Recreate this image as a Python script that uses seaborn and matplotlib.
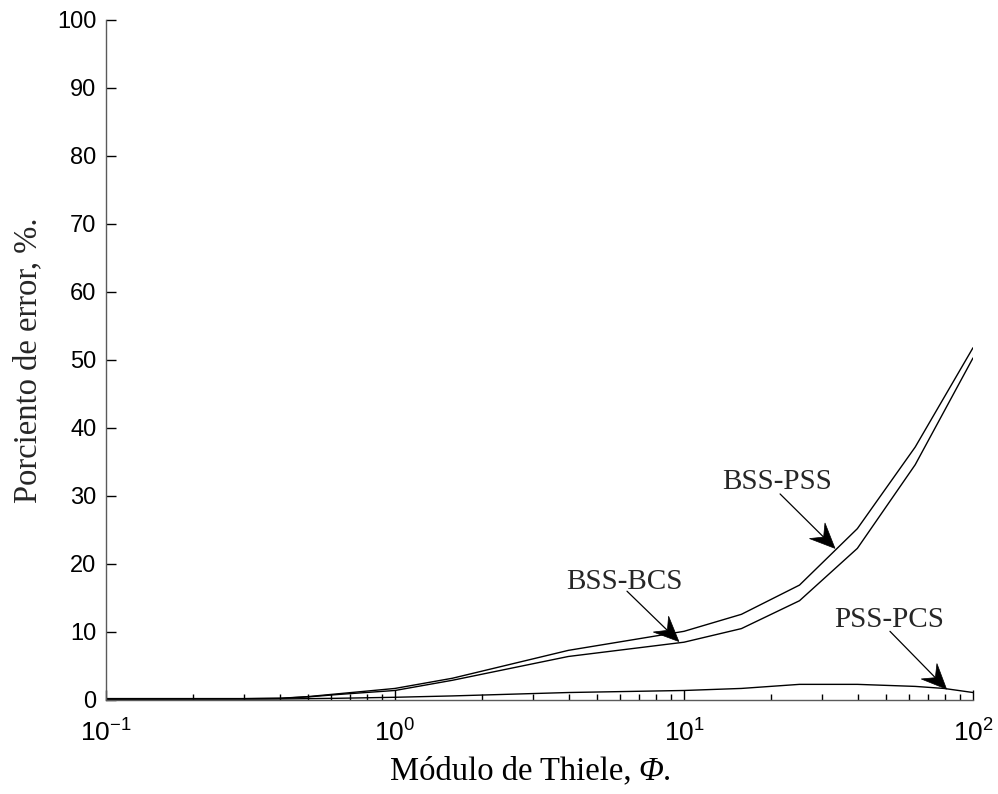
import numpy as np
import pandas as pd
import matplotlib
matplotlib.use("Agg")
import matplotlib.pyplot as plt
import seaborn as sns
from matplotlib.patches import Polygon
from matplotlib.transforms import IdentityTransform
from matplotlib.offsetbox import TextArea, HPacker, AnchoredOffsetbox
from matplotlib.ticker import LogLocator, FixedLocator, NullFormatter

# Thiele modulus values and percent error between model pairs
phi = [0.1, 0.2, 0.3, 0.4, 0.5, 0.63, 1.0, 1.58, 3.98, 10.0, 15.8, 25.1, 39.8, 63.1, 100.0]
err_bss_pss = [0.2, 0.2, 0.2, 0.25, 0.5, 0.9, 1.7, 3.2, 7.3, 10.1, 12.6, 16.9, 25.2, 37.2, 51.8]
err_bss_bcs = [0.2, 0.2, 0.2, 0.25, 0.45, 0.8, 1.4, 2.9, 6.4, 8.5, 10.5, 14.6, 22.3, 34.6, 50.3]

phi_pss = [0.1, 0.4, 0.63, 1.0, 1.58, 3.98, 10.0, 15.8, 25.1, 39.8, 63.1, 79.4, 100.0]
err_pss_pcs = [0.1, 0.15, 0.25, 0.4, 0.6, 1.1, 1.4, 1.7, 2.3, 2.3, 2.0, 1.7, 1.1]

y_ticks = [0, 10, 20, 30, 40, 50, 60, 70, 80, 90, 100]
x_ticks = [0.1, 1, 10, 100]
x_tick_labels = [r"$10^{-1}$", r"$10^{0}$", r"$10^{1}$", r"$10^{2}$"]

# annotation: label, text position, arrow tail, arrow tip (data coords)
notes = [
    ("BSS-PSS", (21.0, 32.1), (21.5, 30.3), (33.3, 22.3)),
    ("BSS-BCS", (6.2, 17.3), (6.35, 16.0), (9.6, 8.6)),
    ("PSS-PCS", (51.2, 11.8), (51.6, 10.1), (81.0, 1.6)),
]

sns.set_theme(style="ticks")
plt.rcParams["font.family"] = ["Liberation Sans", "DejaVu Sans"]
plt.rcParams["mathtext.fontset"] = "custom"
plt.rcParams["mathtext.rm"] = "Liberation Sans"
plt.rcParams["mathtext.sf"] = "Liberation Sans"

fig = plt.figure(figsize=(9.98, 7.94), dpi=100)
ax = fig.add_axes([106 / 998, 94 / 794, 867 / 998, 680 / 794])

df1 = pd.DataFrame({"phi": phi, "err": err_bss_pss})
df2 = pd.DataFrame({"phi": phi, "err": err_bss_bcs})
df3 = pd.DataFrame({"phi": phi_pss, "err": err_pss_pcs})
for d in (df1, df2, df3):
    sns.lineplot(data=d, x="phi", y="err", color="black", linewidth=1.0,
                 estimator=None, sort=False, ax=ax)

ax.set_xscale("log")
ax.set_xlim(0.1, 100)
ax.set_ylim(0, 100)
ax.yaxis.set_major_locator(FixedLocator(y_ticks))
ax.xaxis.set_major_locator(FixedLocator(x_ticks))
ax.set_xticklabels(x_tick_labels)
ax.xaxis.set_minor_locator(LogLocator(base=10, subs=np.arange(2, 10), numticks=20))
ax.xaxis.set_minor_formatter(NullFormatter())

for side in ("top", "right"):
    ax.spines[side].set_visible(False)
for side in ("left", "bottom"):
    ax.spines[side].set_color("#5a5a5a")
    ax.spines[side].set_linewidth(1.0)

ax.tick_params(axis="both", which="major", direction="in", length=7, width=1.0,
               color="black", labelcolor="black")
ax.tick_params(axis="y", which="major", pad=7, labelsize=17)
ax.tick_params(axis="x", which="major", pad=13, labelsize=19)
ax.tick_params(axis="x", which="minor", direction="in", length=4, width=1.0, color="black")

serif = ["Liberation Serif", "DejaVu Serif"]
ax.set_xlabel("")
ax.set_ylabel("Porciento de error, %.", fontsize=23.5, family=serif, labelpad=10)

# x-axis title with an italic Phi
upright = dict(fontsize=23.5, family=serif, color="black")
italic = dict(fontsize=23.5, family=serif, style="italic", color="black")
xlabel_box = HPacker(children=[TextArea("Módulo de Thiele,\u2009", textprops=upright),
                               TextArea("\u03A6", textprops=italic),
                               TextArea(".", textprops=upright)],
                     align="baseline", pad=0, sep=0)
ax.add_artist(AnchoredOffsetbox(loc="center", child=xlabel_box, pad=0, borderpad=0,
                                frameon=False, bbox_to_anchor=(0.49, -0.105),
                                bbox_transform=ax.transAxes))

# annotation arrows: thin shaft plus a notched, filled head
HEAD_LEN, HEAD_HALF, NOTCH = 25.0, 11.0, 16.0
for label, txt_pos, tail, tip in notes:
    ax.text(txt_pos[0], txt_pos[1], label, fontsize=21, family=serif,
            ha="center", va="center")
    p0 = ax.transData.transform(tail)
    p1 = ax.transData.transform(tip)
    d = (p1 - p0) / np.hypot(*(p1 - p0))
    n = np.array([-d[1], d[0]])
    base = p1 - d * HEAD_LEN
    notch = p1 - d * NOTCH
    ax.annotate("", xy=tuple(ax.transData.inverted().transform(notch)), xytext=tail,
                arrowprops=dict(arrowstyle="-", color="black", lw=0.9,
                                shrinkA=0, shrinkB=0))
    head = Polygon([p1, base + n * HEAD_HALF, notch, base - n * HEAD_HALF],
                   closed=True, facecolor="black", edgecolor="black", lw=0.5,
                   transform=IdentityTransform())
    fig.patches.append(head)

fig.savefig("out.png", dpi=100, facecolor="white")
